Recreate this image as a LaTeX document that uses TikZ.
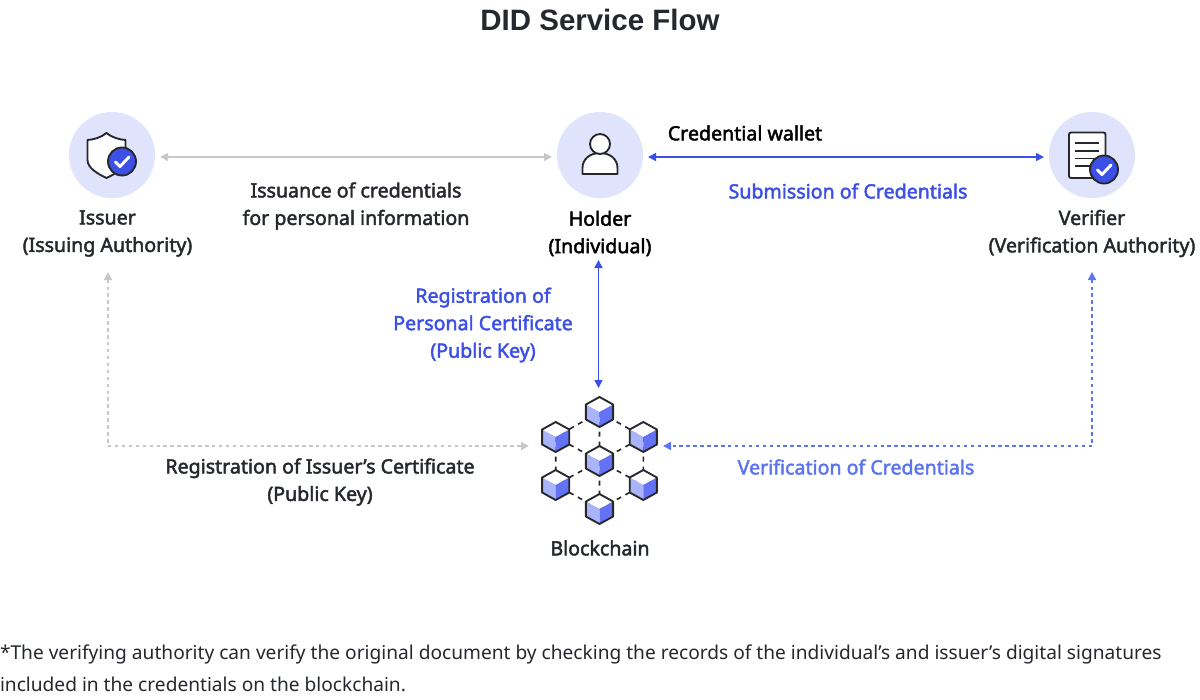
\documentclass[tikz,border=0pt]{standalone}
\usepackage{fontspec}
\setmainfont{Noto Sans}
\newfontfamily\mediumface[FakeBold=2.2]{Noto Sans}
\newfontfamily\headface{Liberation Sans Bold}
\usetikzlibrary{arrows.meta,calc}
\definecolor{inkdark}{HTML}{25282D}
\definecolor{halo}{HTML}{DFE4FC}
\definecolor{royal}{HTML}{3D50E6}
\definecolor{softblue}{HTML}{5B75F0}
\definecolor{ashline}{HTML}{C8C8C8}
\definecolor{cubelight}{HTML}{A9B4FB}
\definecolor{cubemid}{HTML}{6472F6}
\tikzset{
  every node/.style={inner sep=0pt,outer sep=0pt,align=center},
  labeltext/.style={font=\mediumface\fontsize{14.7pt}{20.6pt}\selectfont,text=inkdark},
  bluetext/.style={labeltext,text=royal},
  softtext/.style={labeltext,text=softblue},
  notetext/.style={font=\fontsize{14.35pt}{24pt}\selectfont,text=inkdark,align=left},
  titletext/.style={font=\headface\fontsize{22.1pt}{26pt}\selectfont,text=inkdark},
  haloring/.style={circle,fill=halo,minimum size=64.5pt},
  duplex/.style={{Triangle[length=6pt,width=6pt]}-{Triangle[length=6pt,width=6pt]},line width=1.2pt},
  icon/.style={draw=inkdark,line width=1.4pt,line join=round},
  hexlink/.style={draw=black!85,line width=1.2pt,dash pattern=on 3.7pt off 3.7pt},
}
% cube drawn as a hexagon with white top and two shaded faces
\newcommand{\blockcube}[2]{%
  \coordinate (#1) at (#2);
  \fill[white] ($(#1)+(0,-15)$) -- ++(13.6,7.5) -- ++(-13.6,7.5) -- ++(-13.6,-7.5) -- cycle;
  \fill[cubelight] ($(#1)+(-13.6,-7.5)$) -- ++(13.6,7.5) -- ++(0,15) -- ++(-13.6,-7.5) -- cycle;
  \fill[cubemid] ($(#1)+(13.6,-7.5)$) -- ++(-13.6,7.5) -- ++(0,15) -- ++(13.6,-7.5) -- cycle;
  \draw[icon] ($(#1)+(0,-15)$) -- ++(13.6,7.5) -- ++(0,15) -- ++(-13.6,7.5) -- ++(-13.6,-7.5) -- ++(0,-15) -- cycle;
}
% round blue badge with a white check mark
\newcommand{\checkbadge}[2]{%
  \node[circle,fill=royal,draw=inkdark,line width=1.4pt,minimum size=21pt] (#1) at (#2) {};
  \draw[white,line width=2.2pt,line cap=round,line join=round] ($(#1)+(-6.5,0.5)$) -- ++(4.5,4.5) -- ++(9,-9.5);
}
\begin{document}
\begin{tikzpicture}[x=0.75pt,y=-0.75pt]
\useasboundingbox (0,0) rectangle (1200,700);
\fill[white] (0,0) rectangle (1200,700);

\node[titletext] (title) at (600,20) {DID Service Flow};

% role circles
\node[haloring] (issuer) at (112,155) {};
\node[haloring] (holder) at (600,155) {};
\node[haloring] (verifier) at (1092,155) {};

% issuer icon: shield and badge
\draw[icon,fill=white] (106.5,133) .. controls (112,137.5) and (119,139.5) .. (125.5,140) -- (125.5,160) .. controls (125.5,168) and (115,174) .. (106.5,178) .. controls (98,174) and (87.5,168) .. (87.5,160) -- (87.5,140) .. controls (94,139.5) and (101,137.5) .. (106.5,133) -- cycle;
\checkbadge{issuerbadge}{122,161.5}

% holder icon: head and shoulders
\draw[icon,fill=white] (582.5,174) -- (582.5,168) .. controls (582.5,159) and (590,153) .. (600,153) .. controls (610,153) and (617.5,159) .. (617.5,168) -- (617.5,174) -- cycle;
\draw[icon,fill=white] (600,144) circle[radius=7.5pt];

% verifier icon: sheet and badge
\draw[icon,fill=white,rounded corners=1.5pt] (1069,132.5) rectangle (1105.5,178);
\draw[icon] (1075,143) -- (1099,143) (1075,151) -- (1099,151) (1075,158.5) -- (1099,158.5) (1075,166) -- (1092,166);
\checkbadge{verifierbadge}{1104,169.5}

% blockchain links and cubes
\coordinate (bt) at (599.5,412);
\coordinate (bc) at (599.5,461);
\coordinate (bb) at (599.5,509);
\coordinate (blu) at (555.7,437);
\coordinate (bll) at (555.7,485);
\coordinate (bru) at (643.3,437);
\coordinate (brl) at (643.3,485);
\path[hexlink] (bt) -- (blu) (bt) -- (bru) (bt) -- (bc) (bc) -- (blu) (bc) -- (bru) (bc) -- (bll) (bc) -- (brl) (bc) -- (bb) (blu) -- (bll) (bru) -- (brl) (bb) -- (bll) (bb) -- (brl);
\blockcube{cubetop}{599.5,412}
\blockcube{cubemiddle}{599.5,461}
\blockcube{cubebottom}{599.5,509}
\blockcube{cubeleftup}{555.7,437}
\blockcube{cubeleftdown}{555.7,485}
\blockcube{cuberightup}{643.3,437}
\blockcube{cuberightdown}{643.3,485}

% anchors for connector ends
\coordinate (issuerEast) at (160,157);
\coordinate (holderWest) at (552,157);
\coordinate (holderEast) at (648,157);
\coordinate (verifierWest) at (1044,157);
\coordinate (holderSouth) at (598.5,260);
\coordinate (chainNorth) at (598.5,388);
\coordinate (issuerSouth) at (108,272);
\coordinate (chainWest) at (529,446);
\coordinate (chainEast) at (663,446);
\coordinate (verifierSouth) at (1092,272);

% connectors
\draw[duplex,color=ashline] (issuerEast) -- (holderWest);
\draw[duplex,color=royal] (holderEast) -- (verifierWest);
\draw[duplex,color=royal] (holderSouth) -- (chainNorth);
\draw[duplex,color=ashline,dash pattern=on 2.6pt off 2.6pt] (issuerSouth) |- (chainWest);
\draw[duplex,color=softblue,dash pattern=on 2.6pt off 2.6pt] (verifierSouth) |- (chainEast);

% labels
\node[labeltext] (issuerlabel) at (107.5,233.5) {Issuer\\(Issuing Authority)};
\node[labeltext,text=black] (holderlabel) at (600,233.5) {Holder\\(Individual)};
\node[labeltext] (verifierlabel) at (1092,233.5) {Verifier\\(Verification Authority)};
\node[labeltext] (issuance) at (356,206) {Issuance of credentials\\for personal information};
\node[labeltext,text=black] (wallet) at (745,133) {Credential wallet};
\node[bluetext] (submission) at (848,191) {Submission of Credentials};
\node[bluetext] (registration) at (483,325) {Registration of\\Personal Certificate\\(Public Key)};
\node[labeltext] (issuerreg) at (320,482) {Registration of Issuer’s Certificate\\(Public Key)};
\node[softtext] (verification) at (856,467) {Verification of Credentials};
\node[labeltext] (chainlabel) at (600,548) {Blockchain};
\node[notetext,anchor=west] (note) at (0,668) {*The verifying authority can verify the original document by checking the records of the individual’s and issuer’s digital signatures\\included in the credentials on the blockchain.};
\end{tikzpicture}
\end{document}
